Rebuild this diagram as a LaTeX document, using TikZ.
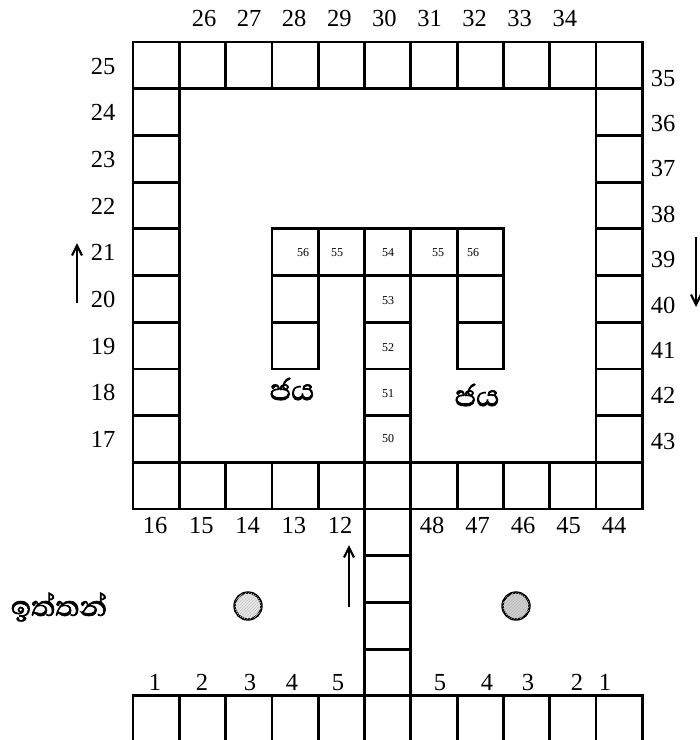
\documentclass[tikz,border=0pt]{standalone}
\usepackage{fontspec}
\setmainfont{Liberation Serif}
\usetikzlibrary{arrows.meta,patterns}
\newfontfamily\sinhalafont[Script=Sinhala,FakeBold=2]{Abhaya Libre}
\tikzset{
  cell/.style = {draw=black, line width=2.8pt},
  big num/.style = {font=\fontsize{24.5}{24.5}\selectfont, inner sep=0pt, text height=16pt, text depth=0pt},
  small num/.style = {font=\fontsize{12}{12}\selectfont, inner sep=0pt, text height=8pt, text depth=0pt},
  sinhala/.style = {font=\fontsize{38}{38}\sinhalafont, inner sep=0pt},
  move arrow/.style = {-{Straight Barb[length=10pt,width=10pt]}, line width=2.2pt},
  token/.style = {circle, draw=black, line width=2.4pt, minimum size=27pt, inner sep=0pt},
}
% cell (column, row) of the board grid
\newcommand{\Cell}[2]{\draw[cell] ({133+#1*46.3},{42+#2*46.7}) rectangle ++(46.3,46.7);}

\begin{document}
\begin{tikzpicture}[x=1pt,y=-1pt]
  \useasboundingbox (0,0) rectangle (700,740);

  % outer ring
  \foreach \i in {0,...,10} {
    \Cell{\i}{0}
    \Cell{\i}{9}
    \Cell{\i}{14}
  }
  \foreach \j in {1,...,8} {
    \Cell{0}{\j}
    \Cell{10}{\j}
  }
  % inner T
  \foreach \i in {3,...,7} {\Cell{\i}{4}}
  \foreach \j in {5,6} {
    \Cell{3}{\j}
    \Cell{7}{\j}
  }
  \foreach \j in {5,...,8} {\Cell{5}{\j}}
  % entry path
  \foreach \j in {10,...,13} {\Cell{5}{\j}}

  % numbers round the ring
  \foreach \n [count=\k from 0] in {25,24,23,22,21,20,19,18,17}
    \node[big num] (l\n) at (103,{66+\k*46.7}) {\n};
  \foreach \n [count=\k from 0] in {35,36,37,38,39,40,41,42,43}
    \node[big num] (r\n) at (663,{78+\k*45.4}) {\n};
  \foreach \n [count=\k from 0] in {26,27,28,29,30,31,32,33,34}
    \node[big num] (t\n) at ({204+\k*45.1},18) {\n};
  \foreach \n [count=\k from 0] in {16,15,14,13,12}
    \node[big num] (b\n) at ({155+\k*46.3},525) {\n};
  \foreach \n [count=\k from 0] in {48,47,46,45,44}
    \node[big num] (b\n) at ({432+\k*45.5},525) {\n};
  \foreach \n/\x in {1/155,2/202,3/250,4/292,5/338}
    \node[big num] (sl\n) at (\x,682) {\n};
  \foreach \n/\x in {5/440,4/487,3/528,2/577,1/605}
    \node[big num] (sr\n) at (\x,682) {\n};

  % numbers in the T
  \foreach \n/\x/\y [count=\k] in {56/303/252,55/337/252,54/388/252,55/438/252,56/473/252,
                                   53/388/300,52/388/347,51/388/393,50/388/438}
    \node[small num] (in\k) at (\x,\y) {\n};

  \node[sinhala] (jayaL) at (292,389) {ජය};
  \node[sinhala] (jayaR) at (477,395) {ජය};
  \node[sinhala, font=\fontsize{36}{36}\sinhalafont] (ittan) at (59,607) {ඉත්තන්};

  \node[token, fill=gray!18, postaction={pattern=north east lines, pattern color=gray!45}] (tokL) at (248,606) {};
  \node[token, fill=gray!38, postaction={pattern=north east lines, pattern color=gray!55}] (tokR) at (516,606) {};

  \draw[move arrow] (77,303) -- (77,243);
  \draw[move arrow] (696,237) -- (696,307);
  \draw[move arrow] (349,607) -- (349,545);
\end{tikzpicture}
\end{document}
